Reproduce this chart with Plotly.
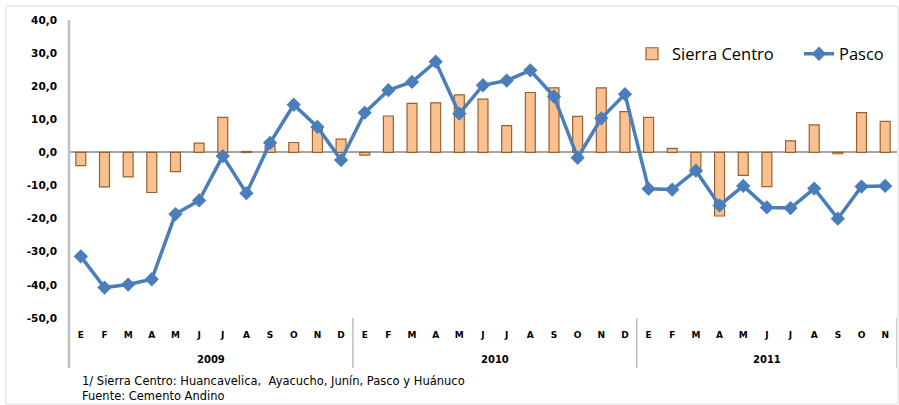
import plotly.graph_objects as go

# ---- data ----
months = ["E", "F", "M", "A", "M", "J", "J", "A", "S", "O", "N", "D",
          "E", "F", "M", "A", "M", "J", "J", "A", "S", "O", "N", "D",
          "E", "F", "M", "A", "M", "J", "J", "A", "S", "O", "N"]
years = ["2009", "2010", "2011"]
sierra_centro = [-4.0, -10.4, -7.4, -12.1, -5.8, 2.8, 10.6, 0.3, 2.0, 3.0, 7.5, 4.0,
                 -0.8, 11.0, 14.8, 15.0, 17.4, 16.1, 8.1, 18.1, 19.5, 10.9, 19.5, 12.3,
                 10.6, 1.2, -6.0, -19.2, -6.9, -10.3, 3.5, 8.3, -0.4, 12.0, 9.4]
pasco = [-31.4, -40.8, -39.9, -38.3, -18.6, -14.5, -1.1, -12.3, 2.9, 14.4, 7.7, -2.3,
         12.0, 18.8, 21.3, 27.4, 11.7, 20.3, 21.7, 24.8, 16.9, -1.6, 10.3, 17.6,
         -11.0, -11.2, -5.5, -16.0, -10.1, -16.6, -16.8, -10.9, -20.0, -10.3, -10.1]
y_ticks = [-50, -40, -30, -20, -10, 0, 10, 20, 30, 40]
y_ticklabels = ["-50,0", "-40,0", "-30,0", "-20,0", "-10,0", "0,0", "10,0", "20,0", "30,0", "40,0"]
footnote_1 = "1/ Sierra Centro: Huancavelica,  Ayacucho, Junín, Pasco y Huánuco"
footnote_2 = "Fuente: Cemento Andino"

x = list(range(len(months)))

# ---- layout geometry (pixels) ----
W, H = 899, 405
L, R, T, B = 69, 2, 20, 87
PW, PH = W - L - R, H - T - B


def px_x(p):
    return (p - L) / PW


def px_y(p):
    return (H - B - p) / PH


fig = go.Figure()
fig.add_trace(go.Bar(
    x=x, y=sierra_centro, name="Sierra Centro", width=0.42,
    marker=dict(color="#FAC090", line=dict(color="#98622E", width=1.2)),
))
fig.add_trace(go.Scatter(
    x=x, y=pasco, name="Pasco", mode="lines+markers",
    line=dict(color="#4A7EBB", width=3.5),
    marker=dict(symbol="diamond", size=11, color="#4A7EBB"),
))

# year groups
group_bounds = []
start = 0
for i, yr in enumerate(years):
    n = 12 if i < len(years) - 1 else len(months) - 24
    group_bounds.append((start, start + n))
    start += n

shapes = [
    dict(type="rect", xref="paper", yref="paper", x0=px_x(6), x1=px_x(898),
         y0=px_y(404), y1=px_y(6), line=dict(color="#D9D9D9", width=1)),
    dict(type="line", xref="paper", yref="paper", x0=0, x1=0,
         y0=px_y(368), y1=1, line=dict(color="#BFBFBF", width=2.5)),
]
annotations = []
for (a, b), yr in zip(group_bounds, years):
    shapes.append(dict(type="line", xref="x", yref="paper", x0=b - 0.5, x1=b - 0.5,
                       y0=px_y(368), y1=0, line=dict(color="#BFBFBF", width=1.5)))
    annotations.append(dict(x=(a + b - 1) / 2, xref="x", y=px_y(359), yref="paper",
                            text=yr, showarrow=False, yanchor="middle",
                            font=dict(family="DejaVu Sans", size=10, color="black", weight="bold")))

annotations.append(dict(x=px_x(80), xref="paper", y=px_y(381), yref="paper", text=footnote_1,
                        showarrow=False, xanchor="left", yanchor="middle",
                        font=dict(family="DejaVu Sans", size=11.5, color="black")))
annotations.append(dict(x=px_x(80), xref="paper", y=px_y(396), yref="paper", text=footnote_2,
                        showarrow=False, xanchor="left", yanchor="middle",
                        font=dict(family="DejaVu Sans", size=11.5, color="black")))

fig.update_layout(
    width=W, height=H, autosize=False,
    margin=dict(l=L, r=R, t=T, b=B, autoexpand=False),
    paper_bgcolor="white", plot_bgcolor="white",
    bargap=0.5,
    shapes=shapes, annotations=annotations,
    legend=dict(orientation="h", x=px_x(632), y=px_y(54), xanchor="left", yanchor="middle",
                font=dict(family="Open Sans", size=16.5, color="black"), bgcolor="rgba(0,0,0,0)",
                itemwidth=30, entrywidth=122),
    xaxis=dict(range=[-0.5, len(months) - 0.5], tickvals=x, ticktext=months,
               showgrid=False, zeroline=False, showline=False, ticks="",
               ticklabelstandoff=10,
               tickfont=dict(family="DejaVu Sans", size=9, color="black", weight="bold")),
    yaxis=dict(range=[-50, 40], tickvals=y_ticks, ticktext=y_ticklabels,
               showgrid=False, zeroline=True, zerolinecolor="#A6A6A6", zerolinewidth=1.5,
               showline=False, ticks="", ticklabelstandoff=11,
               tickfont=dict(family="DejaVu Sans", size=10.5, color="black", weight="bold")),
)

fig.write_html("out.html", config={"displayModeBar": False},
               post_script="document.body.style.margin='0';document.body.style.overflow='hidden';")
